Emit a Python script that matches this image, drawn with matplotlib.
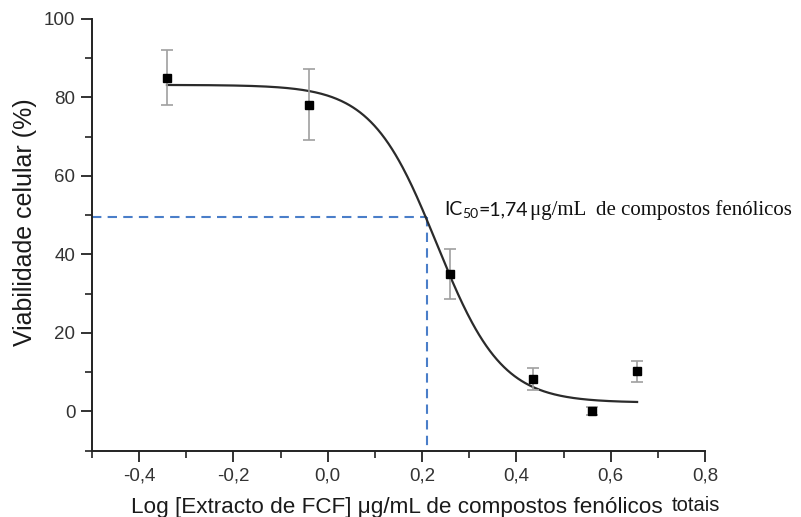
import numpy as np
import matplotlib
matplotlib.use("Agg")
import matplotlib.pyplot as plt
from matplotlib.transforms import offset_copy

# ---- data ----
log_conc = [-0.341, -0.039, 0.259, 0.435, 0.560, 0.656]
viability = [85.0, 78.2, 35.0, 8.3, 0.0, 10.2]
viability_err = [7.0, 9.0, 6.3, 2.8, 1.0, 2.7]

# fitted dose-response (4-parameter logistic) parameters
fit_top = 83.2
fit_bottom = 2.2
fit_logx0 = 0.231
fit_hill = 6.3

ic50_log = 0.211
ic50_level = 49.5

xticks_major = [-0.4, -0.2, 0.0, 0.2, 0.4, 0.6, 0.8]
xtick_labels = ["-0,4", "-0,2", "0,0", "0,2", "0,4", "0,6", "0,8"]
yticks_major = [0, 20, 40, 60, 80, 100]

W, H = 801, 517
fig = plt.figure(figsize=(W / 100, H / 100), dpi=100)
ax = fig.add_axes([92 / W, (H - 450.5) / H, (705 - 92) / W, (450.5 - 19) / H])

ax.set_xlim(-0.5, 0.8)
ax.set_ylim(-10, 100)

# dashed IC50 guides
ax.plot([-0.5, ic50_log], [ic50_level, ic50_level], color="#4a7ec9", lw=1.5,
        ls=(0, (4.5, 3)), zorder=2)
ax.plot([ic50_log, ic50_log], [ic50_level, -10], color="#4a7ec9", lw=1.5,
        ls=(0, (4.5, 3)), zorder=2)

# fitted curve
xc = np.linspace(log_conc[0], log_conc[-1], 400)
yc = fit_bottom + (fit_top - fit_bottom) / (1 + 10 ** ((xc - fit_logx0) * fit_hill))
ax.plot(xc, yc, color="#2b2b2b", lw=1.6, zorder=3)

# data with error bars
ax.errorbar(log_conc, viability, yerr=viability_err, fmt="none", ecolor="#a0a0a0",
            elinewidth=1.2, capsize=4, capthick=1.2, zorder=4)
ax.plot(log_conc, viability, ls="none", marker="s", ms=6.3, color="black", zorder=5)

# axes styling
for s in ["top", "right"]:
    ax.spines[s].set_visible(False)
for s in ["left", "bottom"]:
    ax.spines[s].set_linewidth(1.4)
    ax.spines[s].set_color("#222222")

ax.set_xticks(xticks_major)
ax.set_xticklabels(xtick_labels)
ax.set_xticks([-0.5, -0.3, -0.1, 0.1, 0.3, 0.5, 0.7], minor=True)
ax.set_yticks(yticks_major)
ax.set_yticks([-10, 10, 30, 50, 70, 90], minor=True)
ax.tick_params(which="major", length=8, width=1.3, color="#222222",
               labelsize=13.5, labelcolor="#333333", pad=4)
ax.tick_params(which="minor", length=5, width=1.2, color="#222222")
for lab in ax.get_xticklabels() + ax.get_yticklabels():
    lab.set_family("Liberation Sans")

# y label
fig.text(25 / W, 1 - 222 / H, "Viabilidade celular (%)", rotation=90,
         ha="center", va="center", fontsize=18, family="Liberation Sans",
         color="#1a1a1a")

# x label
fig.text(131 / W, (H - 513) / H, "Log [Extracto de FCF] \u03bcg/mL de compostos fen\u00f3licos",
         ha="left", va="baseline", fontsize=16.2, family="Liberation Sans",
         color="#1a1a1a")
fig.text(672 / W, (H - 511) / H, "totais", ha="left", va="baseline",
         fontsize=14.5, family="Liberation Sans", color="#1a1a1a")

# IC50 annotation
renderer = fig.canvas.get_renderer()
x0, y0 = 0.247, 50.0
t1 = ax.text(x0, y0, "IC", family="Lato", fontsize=14, va="baseline",
             color="#111111")
w1 = t1.get_window_extent(renderer).width
t2 = ax.text(x0, y0, "50", family="Lato", fontsize=10, va="baseline",
             color="#111111",
             transform=offset_copy(ax.transData, fig, x=w1 - 0.5, y=-3, units="dots"))
w2 = t2.get_window_extent(renderer).width
t3 = ax.text(x0, y0, "=1,74", family="Lato", fontsize=14, va="baseline",
             color="#111111",
             transform=offset_copy(ax.transData, fig, x=w1 + w2 - 0.5, y=0, units="dots"))
w3 = t3.get_window_extent(renderer).width
ax.text(x0, y0, "\u03bcg/mL  de compostos fen\u00f3licos", family="Liberation Serif",
        fontsize=15, va="baseline", color="#111111",
        transform=offset_copy(ax.transData, fig, x=w1 + w2 + w3 + 2, y=0, units="dots"))

fig.savefig("out.png", dpi=100)
